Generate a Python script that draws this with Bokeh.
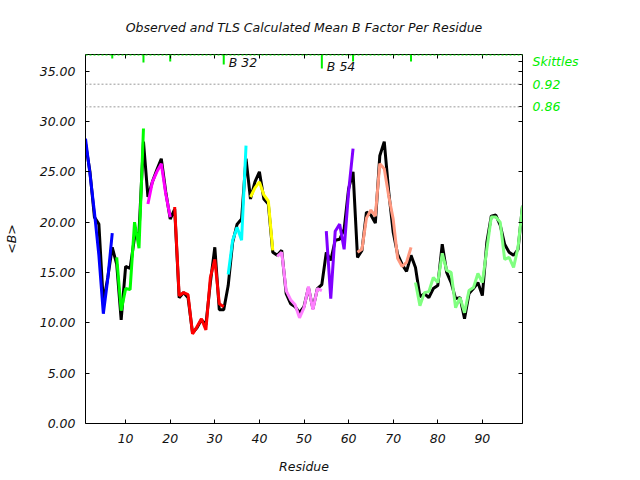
from bokeh.plotting import figure
from bokeh.models import (Range1d, LinearAxis, FixedTicker, PrintfTickFormatter,
                          Label, Span, CustomLabelingPolicy, CustomJSTickFormatter)
from bokeh.embed import file_html
from bokeh.resources import INLINE

# ---------------- data ----------------
residues = list(range(1, 100))
observed = [27.8, 25.0, 20.5, 19.8, 12.0, 14.5, 17.5, 15.8, 10.3, 15.6,
            15.4, 18.5, 19.0, 28.0, 22.5, 24.0, 25.2, 26.3, 23.0, 20.3,
            21.3, 12.5, 13.0, 12.5, 9.0, 9.5, 10.3, 9.8, 14.0, 17.5,
            11.3, 11.3, 13.7, 18.0, 19.8, 20.3, 26.3, 22.3, 24.0, 25.0,
            22.3, 21.8, 17.0, 16.7, 17.2, 12.9, 11.9, 11.6, 11.0, 11.6,
            13.5, 11.4, 13.4, 13.8, 17.0, 16.2, 18.2, 18.3, 19.3, 23.3,
            25.0, 16.5, 17.2, 21.0, 20.7, 19.9, 26.6, 28.0, 23.0, 19.0,
            16.8, 15.8, 15.1, 16.7, 15.5, 12.6, 12.9, 12.5, 13.4, 13.7,
            17.8, 15.0, 14.0, 12.4, 12.5, 10.4, 12.9, 13.4, 14.0, 12.7,
            18.0, 20.6, 20.7, 19.7, 17.8, 17.0, 16.7, 17.3, 21.6]
tls_calc = [28.3, 24.8, 21.0, 16.7, 10.9, 14.4, 18.9, 16.5, 11.2, 13.4,
            13.3, 20.0, 17.4, 29.3, 21.8, 24.0, 25.0, 25.8, 22.8, 20.5,
            21.5, 12.7, 13.0, 12.8, 8.9, 9.6, 10.4, 9.3, 14.5, 16.3,
            11.9, 11.6, 14.8, 18.2, 19.5, 18.2, 27.6, 22.5, 23.4, 24.0,
            22.7, 22.1, 17.2, 16.6, 17.0, 13.2, 12.3, 11.8, 10.5, 11.5,
            13.6, 11.3, 13.4, 13.2, 19.1, 12.4, 19.1, 19.8, 17.3, 23.0,
            27.3, 17.0, 17.3, 20.4, 21.2, 20.6, 25.8, 25.3, 22.6, 20.3,
            16.4, 15.6, 16.0, 17.5, 14.0, 11.7, 13.0, 13.1, 14.5, 14.0,
            16.9, 15.2, 15.0, 11.5, 12.5, 11.0, 13.2, 13.5, 14.9, 14.0,
            17.3, 20.5, 20.5, 20.0, 16.3, 16.5, 15.5, 17.5, 21.6]

segment_first = [1, 8, 15, 21, 33, 38, 44, 55, 62, 75]
segment_last = [7, 14, 20, 32, 37, 43, 54, 61, 74, 99]
segment_colors = ["#0000ff", "#00ff00", "#ff00ff", "#ff0000", "#00ffff",
                  "#ffff00", "#ff80ff", "#8000ff", "#ff9980", "#80ff80"]

boundary_residues = [7, 14, 20, 32, 54, 61, 74]
boundary_marks = [0.4, 0.8, 0.7, 1.0, 1.4, 0.7, 0.7]
labelled_boundaries = [32, 54]
labelled_marks = [1.0, 1.4]
boundary_texts = ["B 32", "B 54"]

skittle_levels = [35.96, 33.7, 31.45]
skittle_texts = ["Skittles", "0.92", "0.86"]
threshold_levels = [33.7, 31.45]

x_ticks = [10, 20, 30, 40, 50, 60, 70, 80, 90]
y_ticks = [0, 5, 10, 15, 20, 25, 30, 35]

X_MIN, X_MAX = 1, 99
Y_MIN, Y_MAX = 0, 36.65

TITLE = "Observed and TLS Calculated Mean B Factor Per Residue"
FONT = "DejaVu Sans"
FS = "12.5px"
GREEN = "#00ee00"
TXT = "#111111"

# ---------------- figure ----------------
W, H = 640, 480
p = figure(width=W, height=H, x_range=Range1d(X_MIN, X_MAX),
           y_range=Range1d(Y_MIN, Y_MAX), output_backend="svg",
           toolbar_location=None, min_border_left=85, min_border_right=118,
           min_border_top=54, min_border_bottom=57)
p.outline_line_color = None
p.grid.visible = False

no_labels = CustomLabelingPolicy(code="return []")


def style_axis(ax):
    ax.major_tick_in = 4
    ax.major_tick_out = 0
    ax.minor_tick_in = 0
    ax.minor_tick_out = 0
    ax.axis_line_color = "black"
    ax.axis_line_width = 1
    ax.major_tick_line_color = "black"
    ax.major_label_text_font = FONT
    ax.major_label_text_font_style = "italic"
    ax.major_label_text_color = TXT
    ax.major_label_text_font_size = FS
    ax.major_label_standoff = 10
    ax.axis_label_text_font = FONT
    ax.axis_label_text_font_style = "italic"
    ax.axis_label_text_font_size = FS
    ax.axis_label_text_color = TXT


p.xaxis.ticker = FixedTicker(ticks=x_ticks)
p.yaxis.ticker = FixedTicker(ticks=y_ticks)
p.yaxis.formatter = PrintfTickFormatter(format="%.2f")
style_axis(p.xaxis[0])
style_axis(p.yaxis[0])
p.xaxis.axis_label = "Residue"
p.xaxis.axis_label_standoff = 13
p.yaxis.axis_label = "<B>"
p.yaxis.axis_label_standoff = 18

# top axis: ticks only, title as its label
top_axis = LinearAxis(ticker=FixedTicker(ticks=x_ticks))
style_axis(top_axis)
top_axis.major_label_policy = no_labels
top_axis.major_label_text_font_size = "0px"
top_axis.major_label_standoff = 0
top_axis.axis_label = TITLE
top_axis.axis_label_standoff = 20
p.add_layout(top_axis, "above")

# right axis: ticks, with green labels only at the skittle levels
right_axis = LinearAxis(ticker=FixedTicker(ticks=skittle_levels + y_ticks))
style_axis(right_axis)
right_axis.formatter = CustomJSTickFormatter(
    args=dict(levels=skittle_levels, texts=skittle_texts),
    code="const i = levels.indexOf(tick); return i >= 0 ? texts[i] : '';")
right_axis.major_label_policy = CustomLabelingPolicy(
    args=dict(n=len(skittle_levels)),
    code="const out = []; for (let i = 0; i < n; i++) out.push(i); return out;")
right_axis.major_label_text_color = GREEN
p.add_layout(right_axis, "right")

# skittle threshold lines
for lvl in threshold_levels:
    p.add_layout(Span(location=lvl, dimension="width", line_color="#999999",
                      line_dash="2 2", line_width=1))

# observed (black)
p.line(residues, observed, line_color="black", line_width=3)

# TLS calculated coloured segments
for a, b, c in zip(segment_first, segment_last, segment_colors):
    p.line(residues[a - 1:b], tls_calc[a - 1:b], line_color=c, line_width=3)

# segment boundary marks at top
p.segment(x0=boundary_residues, y0=[Y_MAX] * len(boundary_residues),
          x1=boundary_residues,
          y1=[Y_MAX - m for m in boundary_marks],
          line_color=GREEN, line_width=2)
p.add_layout(Span(location=Y_MAX, dimension="width", line_color=GREEN,
                  line_dash="2 2", line_width=2))

for bx, bm, bt in zip(labelled_boundaries, labelled_marks, boundary_texts):
    p.add_layout(Label(x=bx, y=Y_MAX - bm, text=bt, x_offset=5, y_offset=2,
                       text_font=FONT, text_font_style="italic",
                       text_font_size=FS, text_color=TXT,
                       text_baseline="middle", text_align="left"))

open("out.html", "w").write(file_html(p, INLINE))
